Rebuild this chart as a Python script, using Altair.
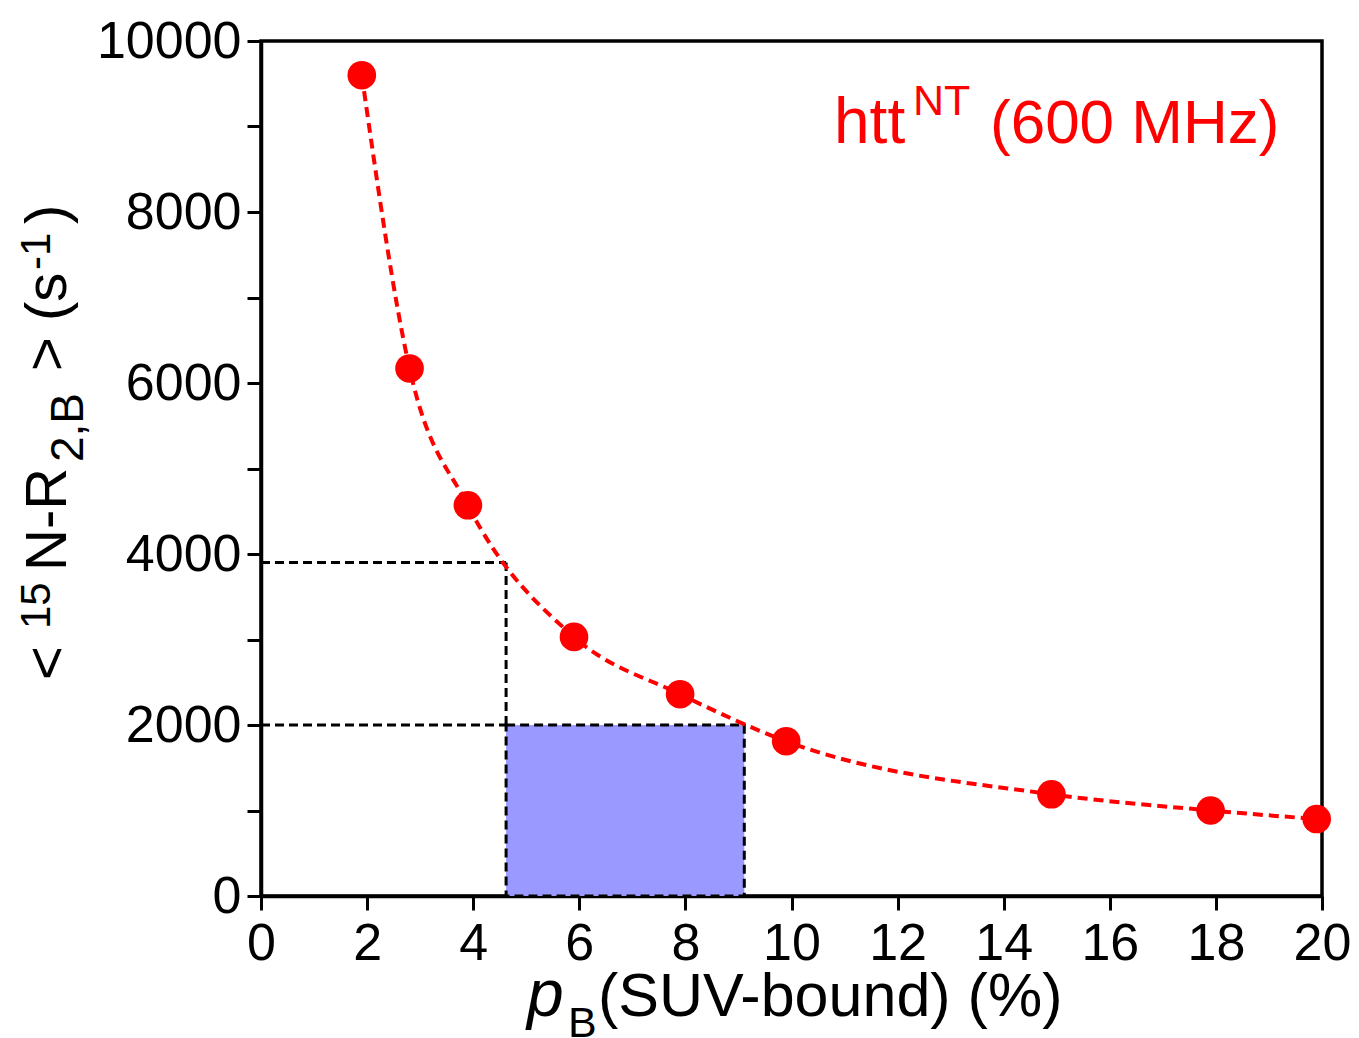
import altair as alt
import pandas as pd

# ---- data ----
pb_values = [1.9, 2.8, 3.9, 5.9, 7.9, 9.9, 14.9, 17.9, 19.9]
r2_values = [9600, 6170, 4570, 3030, 2360, 1810, 1190, 1000, 900]

# shaded window and dashed guide lines
pb_low = 4.62
pb_high = 9.11
r2_cut_low = 2000
r2_cut_high = 3900

x_ticks = [0, 2, 4, 6, 8, 10, 12, 14, 16, 18, 20]
y_ticks = [0, 1000, 2000, 3000, 4000, 5000, 6000, 7000, 8000, 9000, 10000]

# text pieces
ytitle_texts = ["<", "15", "N-R", "2,B", "> (s", "-1", ")"]
ytitle_kind = ["main", "sup", "main", "sub", "main", "sup", "main"]
xtitle_texts = ["p", "B", "(SUV-bound) (%)"]
label_texts = ["htt", "NT", "(600 MHz)"]

FONT = "Liberation Sans"
RED = "#ff0000"

df = pd.DataFrame({"pb": pb_values, "r2": r2_values})

xscale = alt.Scale(domain=[0, 20], nice=False, zero=False)
yscale = alt.Scale(domain=[0, 10000], nice=False)

xaxis = alt.Axis(values=x_ticks, title=None, labelFlush=False, format="d",
                 labelPadding=8)
yaxis = alt.Axis(values=y_ticks, title=None, format="d", labelPadding=6,
                 labelExpr="datum.value % 2000 === 0 ? datum.label : ''")

rect_df = pd.DataFrame({"x": [pb_low], "x2": [pb_high], "y": [0], "y2": [r2_cut_low]})
rect = alt.Chart(rect_df).mark_rect(
    fill="#9999ff", stroke="black", strokeWidth=3, strokeDash=[9, 5]
).encode(
    x=alt.X("x:Q", scale=xscale, axis=xaxis),
    x2="x2:Q",
    y=alt.Y("y:Q", scale=yscale, axis=yaxis),
    y2="y2:Q",
)

guide_df = pd.DataFrame({
    "x": [0, 0, pb_low],
    "x2": [pb_low, pb_low, pb_low],
    "y": [r2_cut_high, r2_cut_low, r2_cut_low],
    "y2": [r2_cut_high, r2_cut_low, r2_cut_high],
})
guides = alt.Chart(guide_df).mark_rule(
    color="black", strokeWidth=3, strokeDash=[9, 5]
).encode(
    x=alt.X("x:Q", scale=xscale), x2="x2:Q",
    y=alt.Y("y:Q", scale=yscale), y2="y2:Q",
)

curve = alt.Chart(df).mark_line(
    color=RED, strokeWidth=4, strokeDash=[10, 6], interpolate="monotone"
).encode(
    x=alt.X("pb:Q", scale=xscale),
    y=alt.Y("r2:Q", scale=yscale),
)

points = alt.Chart(df).mark_point(
    filled=True, color=RED, size=820, opacity=1, shape="circle"
).encode(
    x=alt.X("pb:Q", scale=xscale),
    y=alt.Y("r2:Q", scale=yscale),
)

# ---- text annotations (pixel positions relative to plot origin) ----
def txt(s, x, y, size, color="black", angle=0, style="normal", align="left"):
    d = pd.DataFrame({"t": [s]})
    kw = dict(font=FONT, fontSize=size, color=color, align=align,
              baseline="alphabetic", fontStyle=style)
    if angle:
        kw["angle"] = angle
    return alt.Chart(d).mark_text(**kw).encode(
        text="t:N", x=alt.value(x), y=alt.value(y))

ysizes = {"main": 58, "sup": 42, "sub": 46}
ytitle_pos = [(-195, 639), (-211, 588), (-195, 530), (-178, 421),
              (-195, 330), (-211, 229), (-195, 183)]
ylayers = []
for s, kind, (px, py) in zip(ytitle_texts, ytitle_kind, ytitle_pos):
    ylayers.append(txt(s, px, py, ysizes[kind], angle=270))

xlayers = [
    txt(xtitle_texts[0], 266, 975, 66, style="italic"),
    txt(xtitle_texts[1], 307, 996, 43),
    txt(xtitle_texts[2], 337, 975, 61),
]

red_layers = [
    txt(label_texts[0], 573, 102, 64, color=RED),
    txt(label_texts[1], 652, 74, 43, color=RED),
    txt(label_texts[2], 729, 102, 62, color=RED),
]

chart = alt.layer(
    rect, guides, curve, points, *ylayers, *xlayers, *red_layers
).properties(
    width=1061, height=855,
    autosize=alt.AutoSizeParams(type="none"),
    padding={"left": 253, "top": 33, "right": 29, "bottom": 142},
).configure_view(
    stroke="black", strokeWidth=3.5
).configure_axis(
    domainColor="black", domainWidth=3.5, tickColor="black", tickWidth=3,
    tickSize=14, labelFont=FONT, labelFontSize=52, labelColor="black",
    grid=False,
)

chart.save("out.html", embed_options={"renderer": "svg", "actions": False})
